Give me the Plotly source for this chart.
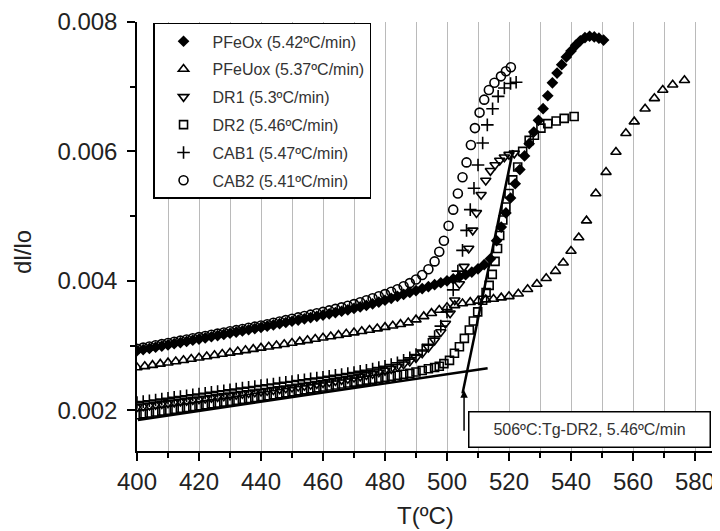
import plotly.graph_objects as go

# ---------------- data ----------------
pfeox_T = [400, 402, 404, 406, 408, 410, 412, 414, 416, 418, 420, 422, 424, 426, 428, 430, 432, 434, 436, 438,
           440, 442, 444, 446, 448, 450, 452, 454, 456, 458, 460, 462, 464, 466, 468, 470, 472, 474, 476, 478,
           480, 482, 484, 486, 488, 490, 492, 494, 496, 498, 500, 502, 504, 506, 508, 510, 512, 514, 516,
           517.5, 519, 520.5, 522, 523.5, 525, 526.5, 528, 529.5, 531, 532.5, 534, 535.5, 537, 538.5, 540,
           541.5, 543, 544.5, 546, 547.5, 549, 550.5]
pfeox_v = [0.002920, 0.002938, 0.002956, 0.002974, 0.002992, 0.003010, 0.003028, 0.003046, 0.003064, 0.003082,
           0.003100, 0.003118, 0.003136, 0.003154, 0.003172, 0.003190, 0.003208, 0.003226, 0.003244, 0.003262,
           0.003280, 0.003299, 0.003318, 0.003337, 0.003356, 0.003375, 0.003394, 0.003413, 0.003432, 0.003451,
           0.003470, 0.003490, 0.003510, 0.003530, 0.003551, 0.003573, 0.003596, 0.003620, 0.003645, 0.003672,
           0.003700, 0.003730, 0.003760, 0.003790, 0.003820, 0.003850, 0.003880, 0.003910, 0.003940, 0.003970,
           0.004000, 0.004030, 0.004060, 0.004095, 0.004135, 0.004185, 0.004250, 0.004340, 0.004620,
           0.00483, 0.00505, 0.00528, 0.00550, 0.00572, 0.00593, 0.00612, 0.00630, 0.00648, 0.00666,
           0.00686, 0.00706, 0.00721, 0.00734, 0.00746, 0.00755, 0.00764, 0.00771, 0.00776, 0.00778,
           0.00777, 0.00775, 0.00772]

pfeuox_T = [400, 402.5, 405, 407.5, 410, 412.5, 415, 417.5, 420, 422.5, 425, 427.5, 430, 432.5, 435, 437.5,
            440, 442.5, 445, 447.5, 450, 452.5, 455, 457.5, 460, 462.5, 465, 467.5, 470, 472.5, 475, 477.5,
            480, 482.5, 485, 487.5, 490, 492.5, 495, 497.5, 500, 502.5, 505, 507.5, 510, 512.5, 515, 517.5,
            520, 523, 526, 529, 532, 535, 537.5, 540, 542.5, 545, 548, 551.3, 554.5, 557.7, 560.4, 563.9,
            566.9, 569.6, 572.8, 576.6]
pfeuox_v = [0.002660, 0.002678, 0.002697, 0.002716, 0.002735, 0.002754, 0.002773, 0.002792, 0.002811, 0.002830,
            0.002849, 0.002868, 0.002887, 0.002906, 0.002925, 0.002944, 0.002963, 0.002982, 0.003001, 0.003020,
            0.003040, 0.003060, 0.003080, 0.003100, 0.003120, 0.003140, 0.003160, 0.003180, 0.003200, 0.003220,
            0.003240, 0.003262, 0.003284, 0.003306, 0.003330, 0.003354, 0.003400, 0.003450, 0.003500, 0.003550,
            0.003590, 0.003620, 0.003650, 0.003670, 0.003690, 0.003710, 0.003720, 0.003740, 0.003760, 0.003800,
            0.003870, 0.003950, 0.004040, 0.004150, 0.004280, 0.004460, 0.004670, 0.004930, 0.005350, 0.005680,
            0.005990, 0.006280, 0.006460, 0.006660, 0.006820, 0.006950, 0.007030, 0.007100]

dr1_T = [400, 402, 404, 406, 408, 410, 412, 414, 416, 418, 420, 422, 424, 426, 428, 430, 432, 434, 436, 438,
         440, 442, 444, 446, 448, 450, 452, 454, 456, 458, 460, 462, 464, 466, 468, 470, 472, 474, 476, 478,
         480, 482, 484, 486, 488, 490, 492, 494, 496, 498, 499.5, 501, 502.5, 504, 505.5, 507, 508.3, 509.5,
         511, 512.5, 514, 515.5, 517, 518.5, 520, 521.7]
dr1_v = [0.002050, 0.002062, 0.002074, 0.002086, 0.002098, 0.002110, 0.002122, 0.002134, 0.002146, 0.002158,
         0.002170, 0.002182, 0.002194, 0.002206, 0.002218, 0.002230, 0.002242, 0.002254, 0.002266, 0.002278,
         0.002290, 0.002302, 0.002314, 0.002327, 0.002340, 0.002353, 0.002366, 0.002380, 0.002394, 0.002408,
         0.002423, 0.002438, 0.002454, 0.002470, 0.002487, 0.002505, 0.002524, 0.002544, 0.002565, 0.002588,
         0.002613, 0.002640, 0.002672, 0.002710, 0.002755, 0.002810, 0.002880, 0.002970, 0.003080, 0.003210,
         0.003340, 0.003500, 0.003700, 0.003950, 0.004220, 0.004500, 0.004780, 0.005050, 0.005330, 0.005550,
         0.005700, 0.005790, 0.005860, 0.005910, 0.005950, 0.005970]

dr2_T = [400, 402, 404, 406, 408, 410, 412, 414, 416, 418, 420, 422, 424, 426, 428, 430, 432, 434, 436, 438,
         440, 442, 444, 446, 448, 450, 452, 454, 456, 458, 460, 462, 464, 466, 468, 470, 472, 474, 476, 478,
         480, 482, 484, 486, 488, 490, 492, 494, 496, 497.5, 499, 500.8, 502.4, 504, 505.6, 507.2, 508.5, 509.9,
         511.5, 512.6, 513.6, 514.6, 515.5, 516.3, 517, 518, 519, 520, 521.2, 522.8, 524.4, 526.5, 528.2,
         530.3, 532.5, 535.2, 537.8, 541]
dr2_v = [0.001930, 0.001944, 0.001958, 0.001972, 0.001986, 0.002000, 0.002014, 0.002028, 0.002042, 0.002056,
         0.002070, 0.002084, 0.002098, 0.002112, 0.002126, 0.002140, 0.002154, 0.002168, 0.002182, 0.002196,
         0.002210, 0.002225, 0.002240, 0.002255, 0.002270, 0.002285, 0.002300, 0.002315, 0.002330, 0.002345,
         0.002360, 0.002375, 0.002390, 0.002405, 0.002420, 0.002435, 0.002450, 0.002465, 0.002480, 0.002495,
         0.002510, 0.002525, 0.002540, 0.002555, 0.002570, 0.002590, 0.002615, 0.002640, 0.002660, 0.002680,
         0.002720, 0.002770, 0.002880, 0.002980, 0.003110, 0.003240, 0.003380, 0.003520, 0.003700, 0.003820,
         0.003930, 0.004100, 0.004300, 0.004500, 0.004700, 0.004940, 0.005140, 0.005350, 0.005560, 0.005760,
         0.006000, 0.006170, 0.006250, 0.006360, 0.006430, 0.006470, 0.006510, 0.006540]

cab1_T = [400, 402, 404, 406, 408, 410, 412, 414, 416, 418, 420, 422, 424, 426, 428, 430, 432, 434, 436, 438,
          440, 442, 444, 446, 448, 450, 452, 454, 456, 458, 460, 462, 464, 466, 468, 470, 472, 474, 476, 478,
          480, 482, 484, 486, 488, 490, 492, 494, 496, 498, 500, 502, 503.5, 505, 506.3, 507.5, 508.7, 510,
          511.5, 513, 514.7, 516.5, 518.5, 520.5, 522.3]
cab1_v = [0.002120, 0.002133, 0.002146, 0.002159, 0.002172, 0.002185, 0.002198, 0.002211, 0.002224, 0.002237,
          0.002250, 0.002263, 0.002276, 0.002289, 0.002302, 0.002315, 0.002328, 0.002341, 0.002354, 0.002367,
          0.002380, 0.002393, 0.002406, 0.002419, 0.002432, 0.002445, 0.002458, 0.002471, 0.002484, 0.002497,
          0.002510, 0.002524, 0.002538, 0.002553, 0.002568, 0.002584, 0.002601, 0.002619, 0.002638, 0.002658,
          0.002680, 0.002705, 0.002735, 0.002770, 0.002810, 0.002860, 0.002930, 0.003020, 0.003140, 0.003300,
          0.003520, 0.003860, 0.004150, 0.004470, 0.004780, 0.005100, 0.005430, 0.005790, 0.006130, 0.006410,
          0.006660, 0.006850, 0.006980, 0.007050, 0.007070]

cab2_T = [400, 402, 404, 406, 408, 410, 412, 414, 416, 418, 420, 422, 424, 426, 428, 430, 432, 434, 436, 438,
          440, 442, 444, 446, 448, 450, 452, 454, 456, 458, 460, 462, 464, 466, 468, 470, 472, 474, 476, 478,
          480, 482, 484, 486, 488, 490, 492, 494, 496, 497.5, 499, 500.5, 502, 503.5, 505, 506.3, 507.7, 509,
          510.5, 512, 513.5, 515.3, 517.4, 519, 520.6]
cab2_v = [0.002950, 0.002968, 0.002986, 0.003004, 0.003022, 0.003040, 0.003058, 0.003076, 0.003094, 0.003112,
          0.003130, 0.003148, 0.003166, 0.003184, 0.003202, 0.003220, 0.003238, 0.003256, 0.003274, 0.003292,
          0.003310, 0.003330, 0.003351, 0.003372, 0.003393, 0.003414, 0.003435, 0.003456, 0.003477, 0.003498,
          0.003520, 0.003543, 0.003566, 0.003590, 0.003614, 0.003640, 0.003670, 0.003700, 0.003730, 0.003762,
          0.003795, 0.003830, 0.003870, 0.003915, 0.003965, 0.004020, 0.004090, 0.004180, 0.004300, 0.004450,
          0.004620, 0.004850, 0.005100, 0.005350, 0.005600, 0.005830, 0.006100, 0.006360, 0.006600, 0.006800,
          0.006950, 0.007060, 0.007160, 0.007240, 0.007300]

# tangent construction lines (Tg of DR2)
base_T = [400.3, 513.1]
base_v = [0.00185, 0.00265]
steep_T = [505.0, 521.3]
steep_v = [0.00226, 0.00602]

series_names = ["PFeOx (5.42ºC/min)", "PFeUox (5.37ºC/min)", "DR1 (5.3ºC/min)",
                "DR2 (5.46ºC/min)", "CAB1 (5.47ºC/min)", "CAB2 (5.41ºC/min)"]
x_ticks = [400, 420, 440, 460, 480, 500, 520, 540, 560, 580]
y_ticks = [0.002, 0.004, 0.006, 0.008]
tg_label = "506ºC:Tg-DR2, 5.46ºC/min"
tg_T = 505.5

# ---------------- figure ----------------
# the page body adds an 8px margin; the figure is sized/offset so the plot lands where the reference has it
FONT = "Liberation Sans, Arial, Helvetica, sans-serif"
fig = go.Figure()

fig.add_trace(go.Scatter(x=base_T, y=base_v, mode="lines", line=dict(color="black", width=2.5),
                         showlegend=False, hoverinfo="skip"))
fig.add_trace(go.Scatter(x=steep_T, y=steep_v, mode="lines", line=dict(color="black", width=2.5),
                         showlegend=False, hoverinfo="skip"))

styles = [
    ("diamond", 9, 0),
    ("triangle-up-open", 9, 1.6),
    ("triangle-down-open", 9, 1.6),
    ("square-open", 8, 1.6),
    ("cross-thin-open", 9, 1.6),
    ("circle-open", 9, 1.6),
]
datasets = [(pfeox_T, pfeox_v), (pfeuox_T, pfeuox_v), (dr1_T, dr1_v),
            (dr2_T, dr2_v), (cab1_T, cab1_v), (cab2_T, cab2_v)]
for i, (name, (tx, vy), (sym, sz, lw)) in enumerate(zip(series_names, datasets, styles)):
    fig.add_trace(go.Scatter(
        x=tx, y=vy, mode="markers", name=name, legendgroup=f"g{i}",
        marker=dict(symbol=sym, size=sz, color="black", line=dict(color="black", width=lw)),
    ))

fig.update_layout(
    width=712, height=523,
    margin=dict(l=129, r=0, t=14, b=80),
    paper_bgcolor="white", plot_bgcolor="white",
    font=dict(family=FONT, color="#222", size=24),
    showlegend=True,
    legend=dict(
        x=0.0275, y=0.998, xanchor="left", yanchor="top",
        bgcolor="white", bordercolor="black", borderwidth=1.5,
        font=dict(family=FONT, size=16, color="#333"),
        traceorder="grouped", tracegroupgap=4,
        itemsizing="trace", itemwidth=48,
    ),
    xaxis=dict(
        range=[400, 588.06], tickvals=x_ticks, ticks="outside", ticklen=8, tickwidth=1.5,
        tickcolor="black", showline=True, linecolor="black", linewidth=1.5,
        showgrid=True, gridcolor="#bababa", gridwidth=1,
        minor=dict(dtick=10, ticks="outside", ticklen=5, tickwidth=1.5, tickcolor="black",
                   showgrid=True, gridcolor="#bababa", gridwidth=1),
        tickfont=dict(size=24, color="#222"), zeroline=False,
    ),
    yaxis=dict(
        range=[0.00137, 0.008], tickvals=y_ticks, tickformat=".3f", ticks="outside", ticklen=8,
        tickwidth=1.5, tickcolor="black", showline=True, linecolor="black", linewidth=1.5,
        showgrid=False, zeroline=False, ticklabelstandoff=5,
        minor=dict(dtick=0.001, tick0=0.002, ticks="outside", ticklen=5, tickwidth=1.5, tickcolor="black"),
        tickfont=dict(size=24, color="#222"),
    ),
    annotations=[
        dict(text="dl/lo", xref="paper", yref="paper", x=-0.1955, y=0.464, textangle=-90,
             showarrow=False, font=dict(size=24, color="#222"), xanchor="center", yanchor="middle"),
        dict(text="T(ºC)", xref="paper", yref="paper", x=0.495, y=-0.1515,
             showarrow=False, font=dict(size=24, color="#222"), xanchor="center", yanchor="middle"),
        dict(text="", x=tg_T, y=0.00231, xref="x", yref="y", ax=tg_T, ay=0.00166, axref="x", ayref="y",
             showarrow=True, arrowhead=2, arrowsize=1, arrowwidth=1.5, arrowcolor="black"),
        dict(text=tg_label, x=546.1, y=0.001706, xref="x", yref="y", showarrow=False,
             font=dict(size=16, color="#333"), bgcolor="white", bordercolor="black", borderwidth=1.5,
             borderpad=3, width=234, height=28, xanchor="center", yanchor="middle"),
    ],
)

fig.write_html("out.html")
